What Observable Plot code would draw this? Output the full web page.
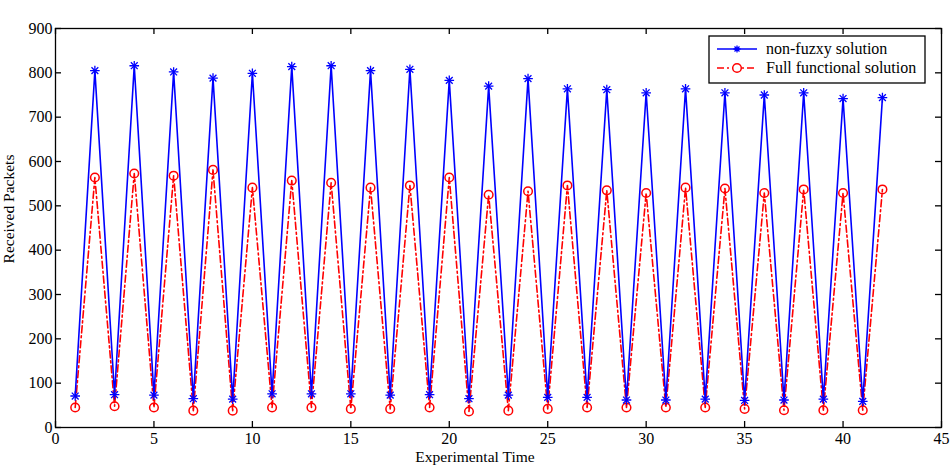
<!DOCTYPE html>
<html><head><meta charset="utf-8">
<script src="https://cdn.jsdelivr.net/npm/d3@7"></script>
<script src="https://cdn.jsdelivr.net/npm/@observablehq/plot@0.6"></script>
<style>
body{margin:0;background:#fff;}
#wrap{position:relative;width:952px;height:466px;overflow:hidden;font-family:"Liberation Serif","Times New Roman",serif;color:#000;}
.lab{position:absolute;white-space:nowrap;font-size:15.5px;line-height:1;}
</style></head><body><div id="wrap"></div>
<script>
// ---- data ----
const times = [1,2,3,4,5,6,7,8,9,10,11,12,13,14,15,16,17,18,19,20,21,22,23,24,25,26,27,28,29,30,31,32,33,34,35,36,37,38,39,40,41,42];
const nonFuzzy = [71,805,74,816,73,802,65,788,64,799,76,814,76,816,76,805,73,808,74,783,65,770,73,787,68,764,68,762,62,755,62,764,64,755,61,750,62,755,64,742,59,744];
const fullFunctional = [45,564,48,573,45,568,38,581,38,541,45,557,45,552,42,541,42,546,45,564,36,525,38,533,42,546,45,535,45,529,45,541,45,539,42,529,39,537,39,529,39,537];
const xTicks = [0,5,10,15,20,25,30,35,40,45];
const yTicks = [0,100,200,300,400,500,600,700,800,900];
const seriesNames = ["non-fuzxy solution","Full functional solution"];
const xTitle = "Experimental Time";
const yTitle = "Received Packets";

const blueRows = times.map((t,i)=>({t, v:nonFuzzy[i]}));
const redRows = times.map((t,i)=>({t, v:fullFunctional[i]}));

const W=952,H=466,mL=55,mR=11,mT=28,mB=39;
const plotH=H-mT-mB, plotW=W-mL-mR;
const BLUE="#0000ff", RED="#ff0000", DASH="7,3,2,3";
const font='"Liberation Serif","Times New Roman",serif';

const chart = Plot.plot({
  width:W, height:H, marginLeft:mL, marginRight:mR, marginTop:mT, marginBottom:mB,
  style:{fontFamily:font, fontSize:"16px", background:"white", color:"black"},
  x:{domain:[0,45]},
  y:{domain:[0,900]},
  marks:[
    Plot.line(redRows,{x:"t",y:"v",stroke:RED,strokeWidth:1.6,strokeDasharray:DASH}),
    Plot.dot(redRows,{x:"t",y:"v",r:4.3,stroke:RED,strokeWidth:1.5,fill:"none"}),
    Plot.line(blueRows,{x:"t",y:"v",stroke:BLUE,strokeWidth:1.6}),
    Plot.dot(blueRows,{x:"t",y:"v",symbol:"plus",r:3.2,stroke:BLUE,strokeWidth:1.3}),
    Plot.dot(blueRows,{x:"t",y:"v",symbol:"times",r:3.2,stroke:BLUE,strokeWidth:1.3}),
    Plot.frame({stroke:"black",strokeWidth:1.3}),
    Plot.axisX(xTicks,{tickSize:0,tickPadding:5,label:null,fontSize:16}),
    Plot.axisY(yTicks,{tickSize:0,tickPadding:3,label:null,fontSize:16}),
    Plot.tickX(xTicks,{x:d=>d,insetTop:plotH-6,stroke:"black",strokeWidth:1.3}),
    Plot.tickX(xTicks,{x:d=>d,insetBottom:plotH-6,stroke:"black",strokeWidth:1.3}),
    Plot.tickY(yTicks,{y:d=>d,insetRight:plotW-6,stroke:"black",strokeWidth:1.3}),
    Plot.tickY(yTicks,{y:d=>d,insetLeft:plotW-6,stroke:"black",strokeWidth:1.3})
  ]
});
const wrap=document.getElementById("wrap");
wrap.appendChild(chart);

// axis titles
const yt=document.createElement("div");
yt.className="lab"; yt.textContent=yTitle;
yt.style.left="9px"; yt.style.top="209px"; yt.style.transform="translate(-50%,-50%) rotate(-90deg)";
wrap.appendChild(yt);
const xt=document.createElement("div");
xt.className="lab"; xt.textContent=xTitle;
xt.style.left="475px"; xt.style.top="449px"; xt.style.transform="translateX(-50%)";
wrap.appendChild(xt);

// legend
const ns="http://www.w3.org/2000/svg";
const lg=document.createElementNS(ns,"svg");
lg.setAttribute("width",218); lg.setAttribute("height",49);
lg.style.position="absolute"; lg.style.left="708px"; lg.style.top="35px";
lg.innerHTML=`
<rect x="1" y="1" width="216" height="47" fill="white" stroke="black" stroke-width="1.3"/>
<line x1="9" x2="49" y1="14" y2="14" stroke="${BLUE}" stroke-width="1.6"/>
<path d="M29,10.5V17.5M25.5,14H32.5M26.5,11.5L31.5,16.5M31.5,11.5L26.5,16.5" stroke="${BLUE}" stroke-width="1.3"/>
<line x1="9" x2="49" y1="33" y2="33" stroke="${RED}" stroke-width="1.6" stroke-dasharray="${DASH}"/>
<circle cx="29" cy="33" r="4.3" fill="white" stroke="${RED}" stroke-width="1.5"/>
<text x="58" y="19" font-family='${font}' font-size="16">${seriesNames[0]}</text>
<text x="58" y="38" font-family='${font}' font-size="16">${seriesNames[1]}</text>`;
wrap.appendChild(lg);
</script></body></html>
